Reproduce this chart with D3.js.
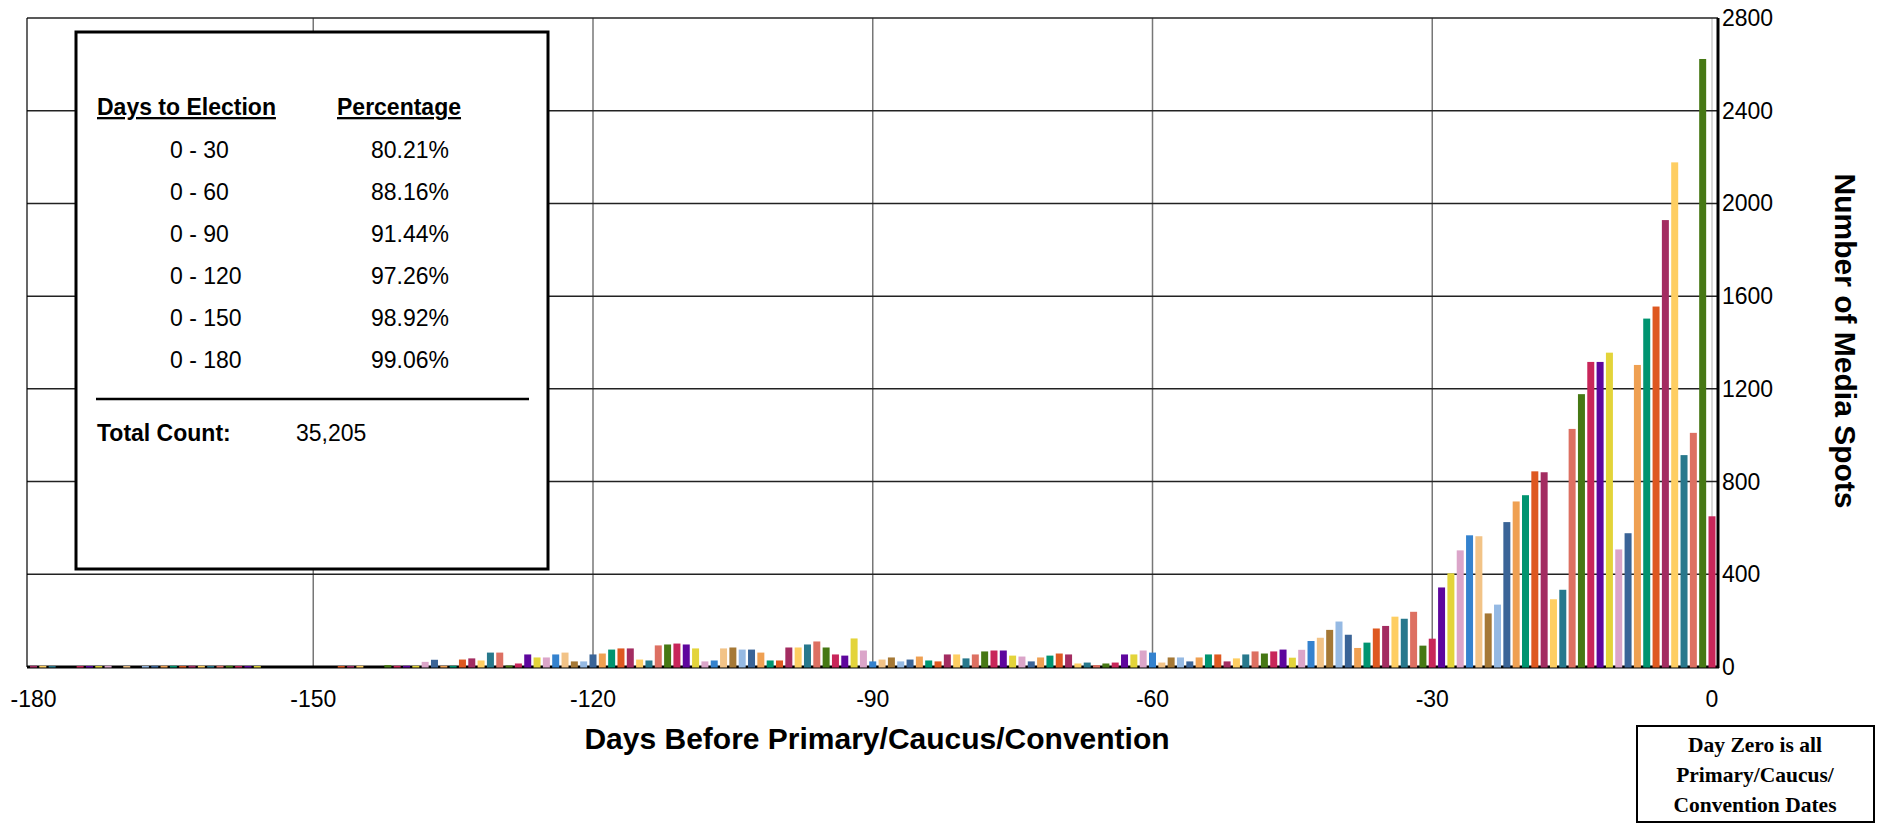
<!DOCTYPE html>
<html>
<head>
<meta charset="utf-8">
<script src="https://cdn.jsdelivr.net/npm/d3@7"></script>
<style>
  body { margin: 0; background: #fff; }
  svg { font-family: "Liberation Sans", Arial, sans-serif; }
</style>
</head>
<body>
<div class="canvas"></div>
<script>
// media spots per day, from day -180 to day 0
const days = d3.range(-180, 1);
const spots = [
  3, 3, 2, 0, 0, 2, 2, 2, 3, 0, 2, 0, 2, 3, 3, 3, 2, 3, 3, 2,   // -180 .. -161
  3, 3, 2, 2, 2, 0, 0, 0, 0, 0, 0, 0, 0, 2, 2, 3, 0, 0, 6, 3,   // -160 .. -141
  3, 3, 20, 29, 3, 3, 30, 35, 26, 60, 60, 4, 13, 52, 39, 39, 52, 60, 22, 22, 52, // -140 .. -120
  56, 73, 78, 78, 30, 26, 91, 95, 99, 95, 78, 22, 26, 78, 82, 73, 73, 60, 26, 26, // -119 .. -100
  82, 82, 95, 108, 82, 52, 47, 121, 69, 22, 30, 39, 22, 30, 43, 26, 22, 52, 52, 35, // -99 .. -80
  52, 65, 69, 69, 47, 43, 22, 39, 47, 56, 52, 13, 17, 6, 13, 17, 52, 52, 69, 60,   // -79 .. -60
  17, 39, 39, 22, 39, 52, 52, 22, 35, 52, 65, 56, 65, 73, 38, 72, 110, 124, 158, 194, // -59 .. -40
  137, 80, 103, 164, 175, 215, 206, 236, 90, 120, 341, 402, 501, 566, 562, 229, 267, 623, 712, 739, // -39 .. -20
  842, 838, 290, 331, 1025, 1175, 1314, 1314, 1354, 505, 575, 1301, 1501, 1553, 1926, 2175, 912, 1008, 2621, 648 // -19 .. 0
];

const tableRanges = ["0 - 30", "0 - 60", "0 - 90", "0 - 120", "0 - 150", "0 - 180"];
const tablePercents = ["80.21%", "88.16%", "91.44%", "97.26%", "98.92%", "99.06%"];
const totalCount = "35,205";

const xTicks = [-180, -150, -120, -90, -60, -30, 0];
const yTicks = [0, 400, 800, 1200, 1600, 2000, 2400, 2800];

const palette = ["#5e069d", "#e3d43a", "#dba5c9", "#3482ce", "#f2c387", "#a57835",
  "#95b9e3", "#3a6497", "#efa052", "#009470", "#de5820", "#a32c61",
  "#fece62", "#27788c", "#dd7062", "#467814", "#c8265a"];
// days where the colour cycle jumps ahead
const colourJumps = [-137, -73, -9];

const W = 1878, H = 824;
const plot = { left: 27, right: 1718, top: 18, bottom: 667 };

const svg = d3.select('.canvas')
  .append('svg')
  .attr('width', W)
  .attr('height', H);

svg.append('rect').attr('width', W).attr('height', H).attr('fill', '#fff');

const x = d3.scaleLinear().domain([-180, 0]).range([33.5, 1712]);
const y = d3.scaleLinear().domain([0, 2800]).range([plot.bottom, plot.top]);

// colour index per day
let ci = 11;
const colours = days.map((d, i) => {
  if (i > 0) ci += 1;
  if (colourJumps.includes(d)) ci += 4;
  return palette[ci % palette.length];
});

// grid
const grid = svg.append('g');
grid.selectAll('line.v')
  .data(xTicks.slice(1, -1))
  .enter().append('line')
    .attr('x1', d => x(d)).attr('x2', d => x(d))
    .attr('y1', plot.top).attr('y2', plot.bottom)
    .attr('stroke', '#777').attr('stroke-width', 1.5);
grid.append('line')
  .attr('x1', x(0)).attr('x2', x(0))
  .attr('y1', plot.top).attr('y2', plot.bottom)
  .attr('stroke', '#ccc').attr('stroke-width', 1.5);
grid.selectAll('line.h')
  .data(yTicks.slice(1))
  .enter().append('line')
    .attr('x1', plot.left).attr('x2', plot.right)
    .attr('y1', d => y(d)).attr('y2', d => y(d))
    .attr('stroke', '#222').attr('stroke-width', 1.5);
grid.append('line')
  .attr('x1', plot.left).attr('x2', plot.left)
  .attr('y1', plot.top).attr('y2', plot.bottom)
  .attr('stroke', '#000').attr('stroke-width', 1.2);

// axes lines
svg.append('line')
  .attr('x1', plot.left).attr('x2', plot.right + 1)
  .attr('y1', plot.bottom).attr('y2', plot.bottom)
  .attr('stroke', '#000').attr('stroke-width', 3);
svg.append('line')
  .attr('x1', plot.right).attr('x2', plot.right)
  .attr('y1', plot.top).attr('y2', plot.bottom + 1)
  .attr('stroke', '#000').attr('stroke-width', 3);

// bars (drawn over the base line, so tiny days still show)
const bw = (x(1) - x(0)) * 0.75;
svg.append('g').selectAll('rect')
  .data(days)
  .enter().append('rect')
    .filter((d, i) => spots[i] > 0)
    .attr('x', d => x(d) - bw / 2)
    .attr('y', (d, i) => y(spots[days.indexOf(d)]) - 0.5)
    .attr('width', bw)
    .attr('height', d => plot.bottom + 1 - y(spots[days.indexOf(d)]))
    .attr('fill', d => colours[days.indexOf(d)]);

// x axis labels
svg.append('g').selectAll('text')
  .data(xTicks)
  .enter().append('text')
    .attr('x', d => x(d))
    .attr('y', 707)
    .attr('text-anchor', 'middle')
    .attr('font-size', 23)
    .text(d => d === 0 ? '0' : '-' + Math.abs(d));

svg.append('text')
  .attr('x', 877).attr('y', 749)
  .attr('text-anchor', 'middle')
  .attr('font-size', 30).attr('font-weight', 'bold')
  .text('Days Before Primary/Caucus/Convention');

// y axis labels (right)
svg.append('g').selectAll('text')
  .data(yTicks)
  .enter().append('text')
    .attr('x', 1722)
    .attr('y', d => y(d) + 8)
    .attr('font-size', 23)
    .text(d => d);

svg.append('text')
  .attr('transform', 'translate(1835,341) rotate(90)')
  .attr('text-anchor', 'middle')
  .attr('font-size', 30).attr('font-weight', 'bold')
  .text('Number of Media Spots');

// summary table box
const box = svg.append('g');
box.append('rect')
  .attr('x', 76).attr('y', 32).attr('width', 472).attr('height', 537)
  .attr('fill', '#fff').attr('stroke', '#000').attr('stroke-width', 3);
box.append('text')
  .attr('x', 97).attr('y', 115)
  .attr('font-size', 23).attr('font-weight', 'bold')
  .attr('text-decoration', 'underline')
  .text('Days to Election');
box.append('text')
  .attr('x', 337).attr('y', 115)
  .attr('font-size', 23).attr('font-weight', 'bold')
  .attr('text-decoration', 'underline')
  .text('Percentage');
box.selectAll('text.r')
  .data(tableRanges)
  .enter().append('text')
    .attr('x', 170).attr('y', (d, i) => 158 + i * 41.9)
    .attr('font-size', 23)
    .text(d => d);
box.selectAll('text.p')
  .data(tablePercents)
  .enter().append('text')
    .attr('x', 449).attr('y', (d, i) => 158 + i * 41.9)
    .attr('text-anchor', 'end')
    .attr('font-size', 23)
    .text(d => d);
box.append('line')
  .attr('x1', 96).attr('x2', 529).attr('y1', 399).attr('y2', 399)
  .attr('stroke', '#000').attr('stroke-width', 2.5);
box.append('text')
  .attr('x', 97).attr('y', 441)
  .attr('font-size', 23).attr('font-weight', 'bold')
  .text('Total Count:');
box.append('text')
  .attr('x', 296).attr('y', 441)
  .attr('font-size', 23)
  .text(totalCount);

// note box
const note = svg.append('g');
note.append('rect')
  .attr('x', 1637).attr('y', 726).attr('width', 237).attr('height', 96)
  .attr('fill', '#fff').attr('stroke', '#000').attr('stroke-width', 2);
note.selectAll('text')
  .data(['Day Zero is all', 'Primary/Caucus/', 'Convention Dates'])
  .enter().append('text')
    .attr('x', 1755).attr('y', (d, i) => 752 + i * 30)
    .attr('text-anchor', 'middle')
    .style('font-family', '"Liberation Serif", "Times New Roman", serif')
    .attr('font-size', 21.5).attr('font-weight', 'bold')
    .text(d => d);
</script>
</body>
</html>
